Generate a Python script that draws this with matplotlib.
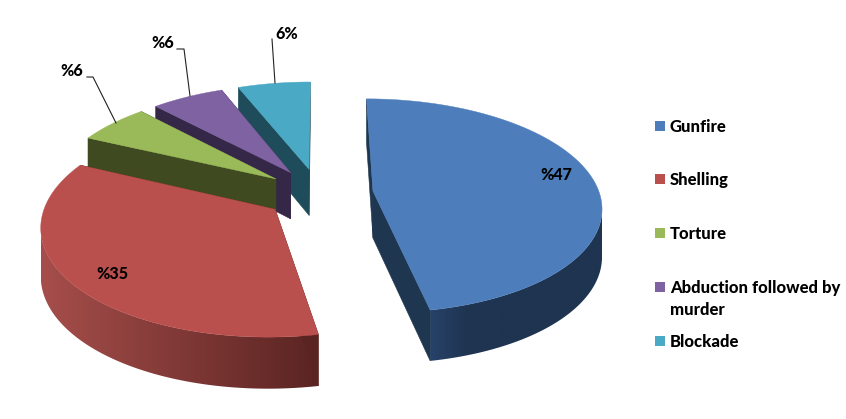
import numpy as np
import matplotlib
matplotlib.use("Agg")
import matplotlib.pyplot as plt
from matplotlib.colors import LinearSegmentedColormap
from matplotlib.patches import Polygon, Rectangle

categories = ["Gunfire", "Shelling", "Torture", "Abduction followed by\nmurder", "Blockade"]
values = [47, 35, 6, 6, 6]
value_labels = ["%47", "%35", "%6", "%6", "6%"]

top_colors = ["#4d7ebb", "#ba504d", "#9aba59", "#7f62a1", "#4aa9c4"]
wall_stops = [
    ["#27426a", "#1f3552", "#1e3450", "#1e3450", "#1e3450", "#1e3450"],
    ["#a64e4b", "#5a2422"],
    ["#3f4a20", "#3f4a20"],
    ["#3a2b52", "#3a2b52"],
    ["#1f4c5a", "#1f4c5a"],
]
radial_colors = ["#1f3650", "#5a2422", "#3f4a20", "#352748", "#1f4c5a"]

# projection of the pie plane to pixels
CX, CY = 319, 193.5
RX, RY = 226.5, 105.5
PERSP = 0.137
EXPLODE = 0.24


def project(u, v):
    den = 1 + PERSP * v
    return CX + RX * u / den, CY - RY * v / den


def depth(v):
    return 47 - 4 * v


fig = plt.figure(figsize=(8.46, 4.19), dpi=100)
ax = fig.add_axes([0, 0, 1, 1])
ax.axis("off")

# slices run clockwise from 12 o'clock
edges = np.cumsum([0] + values) / sum(values) * 2 * np.pi
order = [4, 3, 2, 1, 0]

for i in order:
    a0, a1 = edges[i], edges[i + 1]
    mid = (a0 + a1) / 2
    ou, ov = EXPLODE * np.sin(mid), EXPLODE * np.cos(mid)
    ang = np.linspace(a0, a1, 200)
    u = ou + np.sin(ang)
    v = ov + np.cos(ang)
    rx, ry = project(u, v)
    ax_, ay_ = project(ou, ov)

    # radial walls
    for (px, py, pv) in [(rx[0], ry[0], v[0]), (rx[-1], ry[-1], v[-1])]:
        wall = [(ax_, ay_), (px, py), (px, py + depth(pv)), (ax_, ay_ + depth(ov))]
        ax.add_patch(Polygon(wall, closed=True, fc=radial_colors[i], ec=radial_colors[i], lw=0.4))

    # outer wall: only the front part of the rim, gradient clipped to its outline
    front = np.gradient(rx) < 0
    if front.sum() > 1:
        fx, fy = rx[front], ry[front]
        low = fy + depth(v[front])
        outline = list(zip(fx, fy)) + list(zip(fx[::-1], low[::-1]))
        clip = Polygon(outline, closed=True, transform=ax.transData, fc="none", ec="none")
        ax.add_patch(clip)
        grad = np.linspace(0, 1, 256).reshape(1, -1)
        cmap = LinearSegmentedColormap.from_list("wall", wall_stops[i])
        img = ax.imshow(grad, cmap=cmap, aspect="auto", interpolation="bilinear",
                        extent=[fx.min(), fx.max(), low.max(), fy.min()])
        img.set_clip_path(clip)

    # top face
    top = [(ax_, ay_)] + list(zip(rx, ry))
    ax.add_patch(Polygon(top, closed=True, fc=top_colors[i], ec=top_colors[i], lw=0.3))

ax.set_xlim(0, 846)
ax.set_ylim(419, 0)

# leader lines
ax.plot([87, 93, 116], [77, 77, 123], color="#222222", lw=0.8)
ax.plot([177, 184, 190], [49, 49, 96], color="#222222", lw=0.8)
ax.plot([272, 275], [39, 83], color="#222222", lw=0.8)

label_pos = [(556, 175), (112, 274), (72, 71), (163, 43), (287, 34)]
for text, (x, y) in zip(value_labels, label_pos):
    ax.text(x, y, text, fontsize=11.5, fontweight=900, family="Lato",
            ha="center", va="center", color="black")

# legend
legend_y = [126, 179, 233, 287, 341]
for i, name in enumerate(categories):
    ax.add_patch(Rectangle((655, legend_y[i] - 5), 10, 10, fc=top_colors[i], ec="none"))
    ax.text(670, legend_y[i] - 7, name, fontsize=12, fontweight=900, family="Lato",
            ha="left", va="top", color="black", linespacing=1.45)

fig.savefig("out.png", dpi=100)
